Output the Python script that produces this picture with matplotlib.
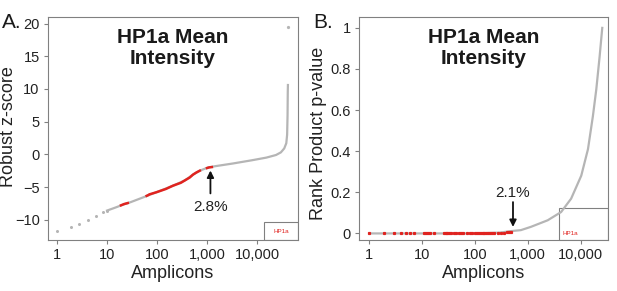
import matplotlib.pyplot as plt
from matplotlib.patches import Rectangle
plt.rcParams['font.family'] = ['Liberation Sans', 'DejaVu Sans']

# ---- panel A: robust z-score, amplicons sorted by rank ----
rank_a = [1, 1.9, 2.8, 4.2, 6.1, 8.3, 10, 14, 20.9, 30, 52, 97, 208, 358, 525,
          718, 1050, 1500, 3300, 8000, 15400, 24000, 30000, 35000, 38500,
          40000, 40800, 41200, 41500]
z_a = [-11.8, -11.1, -10.6, -10.1, -9.5, -8.8, -8.6, -8.2, -7.7, -7.3, -6.6,
       -5.8, -4.8, -4.0, -3.1, -2.5, -2.0, -1.8, -1.4, -0.9, -0.5, -0.1, 0.3,
       0.9, 1.7, 3.0, 6.0, 9.5, 10.6]
outlier_rank_a = [42000]
outlier_z_a = [19.5]
# red (hit) stretches
red_rank_a = [[19, 22, 26], [62, 66],
              [72, 97, 150, 208, 300, 358, 450, 525, 620, 718],
              [1000, 1100, 1250]]
red_z_a = [[-7.8, -7.6, -7.45], [-6.35, -6.25],
           [-6.1, -5.8, -5.3, -4.8, -4.35, -4.0, -3.55, -3.1, -2.75, -2.5],
           [-2.1, -2.0, -1.95]]

# ---- panel B: rank product p-value ----
rank_b = [1, 10, 100, 300, 475, 743, 1150, 2390, 4280, 6620, 10300, 13800,
          17100, 19800, 22900, 25700]
p_b = [0.0, 0.0, 0.0, 0.004, 0.011, 0.016, 0.032, 0.064, 0.104, 0.169, 0.281,
       0.41, 0.571, 0.70, 0.86, 1.0]
red_rank_b = [1, 1.9, 3, 4, 5, 6, 7, 10.8, 12, 13, 14, 16.6, 26, 28, 30, 33,
              35, 40, 45, 50, 55, 60, 70, 80, 90, 100, 110, 120, 130, 140, 150,
              160, 175, 190, 210, 230, 270, 310, 350, 400, 440, 475]
red_p_b = [0.0] * 36 + [0.001, 0.002, 0.003, 0.005, 0.007, 0.009]

xticks = [1, 10, 100, 1000, 10000]
xticklabels = ['1', '10', '100', '1,000', '10,000']

gray = '#b5b5b5'
red = '#e0231f'
frame = '#808080'

fig = plt.figure(figsize=(6.17, 2.91), dpi=100)
axA = fig.add_axes([48/617, 51/291, 250/617, 223/291])
axB = fig.add_axes([359/617, 51/291, 249/617, 223/291])

for ax in (axA, axB):
    ax.set_xscale('log')
    ax.set_xticks(xticks)
    ax.set_xticklabels(xticklabels)
    ax.minorticks_off()
    for s in ax.spines.values():
        s.set_color(frame)
        s.set_linewidth(0.8)
    ax.tick_params(colors=frame, labelcolor='#222222', labelsize=10.5,
                   length=3, width=0.8, pad=3)
    ax.set_xlabel('Amplicons', fontsize=13, color='#222222', labelpad=2)
    ax.text(0.5, 0.95, 'HP1a Mean\nIntensity', transform=ax.transAxes,
            ha='center', va='top', fontsize=15, fontweight='bold',
            linespacing=1.12, color='#1a1a1a')

# panel A
axA.plot(rank_a[:7], z_a[:7], ls='none', marker='o', ms=1.2, color=gray)
axA.plot(rank_a[6:], z_a[6:], color=gray, lw=1.6)
axA.plot(outlier_rank_a, outlier_z_a, ls='none', marker='o', ms=1.3, color=gray)
for rr, zz in zip(red_rank_a, red_z_a):
    axA.plot(rr, zz, color=red, lw=1.8)
axA.set_xlim(0.66, 66000)
axA.set_ylim(-13.1, 21.0)
axA.set_yticks([-10, -5, 0, 5, 10, 15, 20])
axA.set_ylabel('Robust z-score', fontsize=13, color='#222222')
axA.yaxis.set_label_coords(-0.125, 0.51)
axA.annotate('', xy=(1170, -2.05), xytext=(1170, -6.4),
             arrowprops=dict(arrowstyle='-|>', color='#111111', lw=1.3,
                             mutation_scale=10))
axA.text(1170, -8.1, '2.8%', ha='center', va='center', fontsize=11,
         color='#222222')
axA.add_patch(Rectangle((0.864, 0), 0.136, 0.08, transform=axA.transAxes,
                        fill=False, ec=frame, lw=0.8))
axA.text(0.932, 0.04, 'HP1a', transform=axA.transAxes, ha='center',
         va='center', fontsize=4.5, color=red)

# panel B
axB.plot(rank_b, p_b, color=gray, lw=1.6)
axB.plot(red_rank_b, red_p_b, ls='none', marker='s', ms=1.3, color=red)
axB.set_xlim(0.645, 33000)
axB.set_ylim(-0.032, 1.053)
axB.set_yticks([0, 0.2, 0.4, 0.6, 0.8, 1])
axB.set_yticklabels(['0', '0.2', '0.4', '0.6', '0.8', '1'])
axB.set_ylabel('Rank Product p-value', fontsize=13, color='#222222')
axB.yaxis.set_label_coords(-0.13, 0.48)
axB.annotate('', xy=(527, 0.018), xytext=(527, 0.166),
             arrowprops=dict(arrowstyle='-|>', color='#111111', lw=1.3,
                             mutation_scale=10))
axB.text(527, 0.198, '2.1%', ha='center', va='center', fontsize=11,
         color='#222222')
axB.add_patch(Rectangle((0.804, 0), 0.196, 0.145, transform=axB.transAxes,
                        fill=False, ec=frame, lw=0.8))
axB.text(0.85, 0.03, 'HP1a', transform=axB.transAxes, ha='center',
         va='center', fontsize=4.5, color=red)

fig.text(2/617, 1 - 23/291, 'A.', fontsize=15, va='center', color='#1a1a1a')
fig.text(313/617, 1 - 23/291, 'B.', fontsize=15, va='center', color='#1a1a1a')

fig.savefig('out.png', dpi=100)
